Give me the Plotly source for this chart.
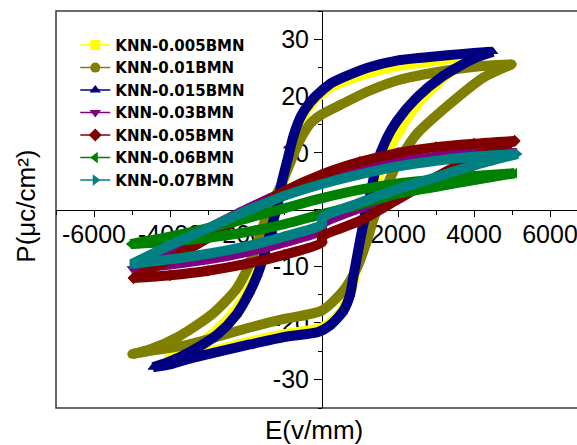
import plotly.graph_objects as go

names = ["KNN-0.005BMN", "KNN-0.01BMN", "KNN-0.015BMN", "KNN-0.03BMN",
         "KNN-0.05BMN", "KNN-0.06BMN", "KNN-0.07BMN"]
colors = ["#FFFF00", "#808000", "#000080", "#800080", "#800000", "#008000", "#008080"]
symbols = ["square", "circle", "triangle-up", "triangle-down", "diamond",
           "triangle-left", "triangle-right"]

# KNN-0.005BMN (E in V/mm, P in uC/cm2)
e005_up = [4000, 3500, 3000, 2000, 1200, 300, 0, -300, -550, -750, -900, -1050, -1200, -1400, -1600, -1850, -2200, -2700, -3300, -4000]
p005_up = [27, 26.7, 26.2, 25.3, 24, 21.8, 20.5, 18.5, 15.5, 12, 8, 4, 0, -4.5, -9, -13, -17, -20.8, -24, -26.3]
e005_dn = [-4000, -3500, -2800, -1900, -1000, 0, 300, 600, 800, 950, 1080, 1200, 1350, 1520, 1750, 2050, 2500, 3000, 3500, 4000]
p005_dn = [-26.3, -25.8, -24.8, -23.3, -22, -20.8, -19.5, -17, -13.5, -9, -4, 0, 3.5, 6.5, 10.5, 14, 18.5, 22, 24.8, 27]

# KNN-0.01BMN
e01_up = [5000, 4400, 3800, 3000, 2000, 1200, 500, 0, -300, -600, -850, -1100, -1400, -1650, -1900, -2250, -2900, -3800, -4500, -5000]
p01_up = [25.6, 25.4, 25, 24.2, 22.8, 20.8, 18.5, 16.8, 15.2, 12, 8, 4, 0, -5, -9.5, -14, -18.5, -22.5, -24.6, -25.5]
e01_dn = [-5000, -4400, -3650, -2800, -1900, -1000, 0, 550, 920, 1180, 1340, 1450, 1700, 1970, 2490, 3360, 4230, 5000]
p01_dn = [-25.5, -24.8, -24, -22.5, -20.8, -19.3, -17.8, -14.4, -10.3, -5.6, -2, 0, 4, 8, 13.3, 18.6, 23.2, 25.6]

# KNN-0.015BMN
e015_up = [4500, 4000, 3300, 2000, 1200, 300, 0, -300, -550, -750, -900, -1050, -1150, -1300, -1500, -1700, -1900, -2250, -2750, -3450, -4000, -4450]
p015_up = [27.8, 27.6, 27.2, 26.3, 25, 22.5, 21, 19, 16.5, 13, 9, 5, 1.5, -2.5, -7.5, -11.5, -14.5, -18.5, -22, -25, -26.8, -27.8]
e015_dn = [-4450, -4000, -3650, -2800, -1900, -1000, -100, 200, 550, 740, 820, 950, 1050, 1180, 1300, 1440, 1700, 1970, 2490, 3180, 3960, 4500]
p015_dn = [-27.8, -27.3, -26.6, -25.2, -23.8, -22.5, -21.6, -20.5, -18, -15, -12, -7.3, -3.8, 0, 3.5, 8, 12.5, 15.6, 19.7, 23.5, 26.5, 27.8]

# KNN-0.03BMN
e03_up = [5000, 4000, 3000, 2000, 1000, 0, -1000, -2000, -3000, -4000, -5000]
p03_up = [10.4, 10, 9.3, 8.3, 6.9, 5.2, 3, 0, -3.4, -6.9, -10.4]
e03_dn = [-5000, -4000, -3000, -2000, -1000, 0, 0, 1000, 2000, 3000, 4000, 5000]
p03_dn = [-10.4, -9.7, -8.8, -7.5, -5.8, -3.6, -2.6, 0.3, 3, 5.4, 7.8, 10.4]

# KNN-0.05BMN
e05_up = [5070, 4000, 3000, 2000, 1000, 0, -1000, -2000, -3000, -4000, -4960]
p05_up = [12.1, 11.6, 11, 10, 8.4, 6.2, 3.2, -0.8, -5, -8.8, -12.1]
e05_dn = [-4960, -4000, -3000, -2000, -1000, 0, 0, 1000, 2000, 3000, 4000, 5070]
p05_dn = [-12.1, -11.6, -10.8, -9.6, -8, -5.8, -4.8, -2, 1.8, 5.7, 9.2, 12.1]

# KNN-0.06BMN
e06_up = [5070, 4000, 3000, 2000, 1000, 0, -1000, -2000, -3000, -4000, -5040]
p06_up = [6.4, 5.9, 5.3, 4.6, 3.5, 2, 0.2, -1.6, -3.3, -4.8, -6.1]
e06_dn = [-5040, -4000, -3000, -2000, -1000, 0, 1000, 2000, 3000, 4000, 5070]
p06_dn = [-6.1, -5.7, -5, -4, -2.6, -0.8, 0.9, 2.8, 4, 5.2, 6.4]

# KNN-0.07BMN
e07_up = [5150, 4000, 3000, 2000, 1000, 0, -1000, -2000, -3000, -4000, -5000]
p07_up = [9.8, 9.3, 8.6, 7.6, 6.2, 4.5, 2.4, -0.3, -3.3, -6.3, -9.6]
e07_dn = [-5000, -4000, -3000, -2000, -1000, 0, 0, 1000, 2000, 3000, 4000, 5150]
p07_dn = [-9.6, -8.8, -7.8, -6.5, -4.8, -2.6, -1.5, 1.2, 3.6, 5.7, 7.8, 9.8]

loops = [
    (e005_up, p005_up, e005_dn, p005_dn),
    (e01_up, p01_up, e01_dn, p01_dn),
    (e015_up, p015_up, e015_dn, p015_dn),
    (e03_up, p03_up, e03_dn, p03_dn),
    (e05_up, p05_up, e05_dn, p05_dn),
    (e06_up, p06_up, e06_dn, p06_dn),
    (e07_up, p07_up, e07_dn, p07_dn),
]

x_ticks = [-6000, -4000, -2000, 0, 2000, 4000, 6000]
x_text = ["-6000", "-4000", "-2000", "", "2000", "4000", "6000"]
y_ticks = [-30, -20, -10, 0, 10, 20, 30]
y_text = ["-30", "-20", "-10", "", "10", "20", "30"]

FONT = "Liberation Sans, Arial, sans-serif"

fig = go.Figure()

for i, (eu, pu, ed, pd_) in enumerate(loops):
    for ex, py in ((eu, pu), (ed, pd_)):
        fig.add_trace(go.Scatter(
            x=ex, y=py, mode="lines+markers", showlegend=False,
            line=dict(color=colors[i], width=10, shape="spline", smoothing=0.7),
            marker=dict(symbol=symbols[i], size=9, color=colors[i], line=dict(width=0)),
            hoverinfo="skip"))

for i, n in enumerate(names):
    fig.add_trace(go.Scatter(
        x=[None], y=[None], mode="lines+markers", name=n,
        line=dict(color=colors[i], width=1.5),
        marker=dict(symbol=symbols[i], size=10, color=colors[i])))

fig.add_shape(type="rect", xref="paper", yref="paper", x0=0, x1=1.05, y0=0, y1=1,
              line=dict(color="#3a3a3a", width=1.5), layer="below")

fig.add_annotation(text="E(v/mm)", xref="paper", yref="paper", x=0.496, y=-0.055,
                   showarrow=False, xanchor="center", yanchor="middle",
                   font=dict(family=FONT, size=26, color="black"))
fig.add_annotation(text="P(μc/cm²)", xref="paper", yref="paper", x=-0.058, y=0.509,
                   showarrow=False, xanchor="center", yanchor="middle", textangle=-90,
                   font=dict(family=FONT, size=26, color="black"))

fig.update_layout(
    width=577, height=445,
    margin=dict(l=56, r=0, t=11, b=37),
    paper_bgcolor="white", plot_bgcolor="white",
    font=dict(family=FONT, color="black"),
    xaxis=dict(range=[-7000, 6710], anchor="free", position=0.5,
               tickmode="array", tickvals=x_ticks, ticktext=x_text,
               ticks="outside", ticklen=6, tickwidth=1, tickcolor="black",
               ticklabeloverflow="allow", ticklabelstandoff=-4,
               showline=True, linecolor="black", linewidth=1,
               showgrid=False, zeroline=False, layer="below traces",
               tickfont=dict(family=FONT, size=25, color="black"),
               minor=dict(tickmode="linear", tick0=0, dtick=1000, ticks="outside",
                          ticklen=4, tickcolor="black", showgrid=False)),
    yaxis=dict(range=[-35, 35], anchor="free", position=7000 / 13710,
               tickmode="array", tickvals=y_ticks, ticktext=y_text,
               ticks="outside", ticklen=8, tickwidth=1, tickcolor="black",
               ticklabeloverflow="allow",
               showline=True, linecolor="black", linewidth=1,
               showgrid=False, zeroline=False, layer="below traces",
               tickfont=dict(family=FONT, size=25, color="black"),
               minor=dict(tickmode="linear", tick0=0, dtick=5, ticks="outside",
                          ticklen=4, tickcolor="black", showgrid=False)),
    legend=dict(x=0.037, y=0.955, xanchor="left", yanchor="top",
                bgcolor="rgba(0,0,0,0)", borderwidth=0, tracegroupgap=0,
                font=dict(family="DejaVu Sans, sans-serif", size=15, color="black",
                          weight="bold")),
)

fig.write_html("out.html")
